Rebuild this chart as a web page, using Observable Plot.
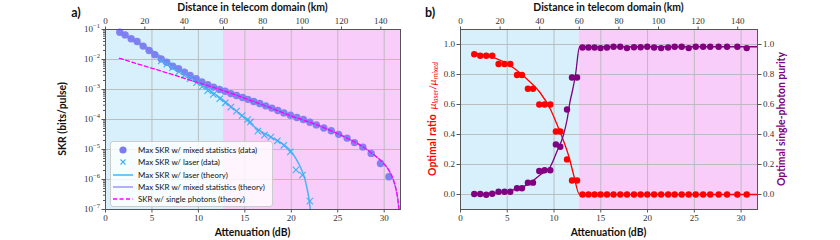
<!DOCTYPE html>
<html><head><meta charset="utf-8">
<script src="https://cdn.jsdelivr.net/npm/d3@7"></script>
<script src="https://cdn.jsdelivr.net/npm/@observablehq/plot@0.6"></script>
<style>
html,body{margin:0;padding:0;background:#fff;}
#wrap{position:relative;width:840px;height:240px;overflow:hidden;}
.panel{position:absolute;top:0;}
.legend{position:absolute;left:110px;top:141px;width:161px;height:64px;background:rgba(255,255,255,0.8);border:1px solid #ccc;border-radius:3px;font-family:Lato,sans-serif;font-size:7.9px;color:#111;}
.legend .row{position:absolute;left:0;height:12px;display:flex;align-items:center;white-space:nowrap;}
.legend svg{width:22px;height:10px;margin-left:1px;margin-right:4px;}
</style></head>
<body><div id="wrap"></div>
<script>
// ---------- data ----------
const dBperKm = 0.2117;                 // top axis conversion (attenuation per km)
const kmTicks = [0, 20, 40, 60, 80, 100, 120, 140];
const kmMax = 150;
const regionBoundaryKm = 60;

// Panel a: secret key rate
const mixedAtt = [1.54,2.11,2.76,3.40,4.05,4.69,5.31,5.99,6.60,7.24,7.86,8.50,9.11,9.76,10.37,11.01,11.63,12.27,12.87,13.49,14.10,14.75,15.32,15.95,16.6,17.25,17.9,18.55,19.2,19.9,20.6,21.3,22.0,22.7,23.5,24.3,25.1,26.0,26.8,27.7,28.6,29.6,30.5];
const mixedSKR = [8.1e-2,6.6e-2,4.9e-2,4.0e-2,2.8e-2,2.0e-2,1.45e-2,1.05e-2,8.1e-3,6.0e-3,4.9e-3,3.8e-3,2.95e-3,2.3e-3,1.8e-3,1.45e-3,1.2e-3,1.0e-3,8.7e-4,7.3e-4,6.3e-4,5.4e-4,4.7e-4,4.0e-4,3.4e-4,2.85e-4,2.4e-4,2.0e-4,1.66e-4,1.38e-4,1.17e-4,1.0e-4,8.1e-5,6.6e-5,5.2e-5,4.2e-5,3.2e-5,2.4e-5,1.7e-5,1.2e-5,7.4e-6,3.4e-6,1.23e-6];

const laserAtt = [6.0,6.6,7.2,7.9,8.5,9.1,9.8,10.4,11.0,11.6,12.3,12.9,13.5,14.1,14.7,15.3,15.6,16.4,17.1,17.8,18.5,19.2,19.9,20.5,21.2,22.0];
const laserSKR = [9.0e-3,7.0e-3,5.3e-3,3.9e-3,3.0e-3,2.3e-3,1.7e-3,1.25e-3,9.2e-4,6.8e-4,4.9e-4,3.6e-4,2.6e-4,1.9e-4,1.35e-4,1.0e-4,8.3e-5,4.1e-5,3.0e-5,2.6e-5,1.95e-5,1.38e-5,8.3e-6,2.1e-6,1.4e-6,1.9e-7];

const laserThAtt = [1.5,3,5,7,9,11,12.6,14,15,16,17,18,19,19.8,20.5,21.0,21.4,21.7,21.9,22.05];
const laserThSKR = [8.1e-2,4.6e-2,2.0e-2,7.2e-3,2.8e-3,1.05e-3,4.6e-4,2.0e-4,1.1e-4,5.8e-5,3.6e-5,2.4e-5,1.6e-5,1.0e-5,5.0e-6,2.5e-6,1.2e-6,5.0e-7,2.3e-7,1.0e-7];

const mixedThAtt = [1.5,3,5,7,9,11,12.6,14,16,18,20,22,24,26,27.5,28.8,29.8,30.6,31.1,31.4,31.6];
const mixedThSKR = [8.2e-2,4.3e-2,1.7e-2,6.6e-3,3.1e-3,1.45e-3,9.4e-4,6.6e-4,3.9e-4,2.3e-4,1.3e-4,8.1e-5,4.6e-5,2.4e-5,1.35e-5,7.0e-6,3.8e-6,1.8e-6,7.5e-7,3.0e-7,1.0e-7];

const singleThAtt = [1.5,3,5,7,9,11,12.6,14,16,18,20,22,24,26,27.5,28.8,29.8,30.6,31.1,31.4,31.6];
const singleThSKR = [1.1e-2,7.9e-3,5.1e-3,3.3e-3,2.1e-3,1.35e-3,9.4e-4,6.6e-4,3.9e-4,2.3e-4,1.3e-4,8.1e-5,4.6e-5,2.4e-5,1.35e-5,7.0e-6,3.8e-6,1.8e-6,7.5e-7,3.0e-7,1.0e-7];

const skrTicks = [1e-1,1e-2,1e-3,1e-4,1e-5,1e-6,1e-7];
const skrTickExponents = ["−1","−2","−3","−4","−5","−6","−7"];

// Panel b: optimal ratio and purity
const optAtt = [1.47,2.11,2.75,3.39,4.07,4.71,5.32,6.04,6.57,7.21,7.75,8.42,8.99,9.6,10.2,10.67,11.39,11.92,12.46,13.04,13.68,14.33,14.97,15.66,16.36,17.08,17.8,18.55,19.26,19.97,20.7,21.45,22.2,22.9,23.65,24.4,25.15,25.94,26.7,27.6,28.5,29.6,30.6];
const ratio  = [0.935,0.925,0.925,0.925,0.87,0.87,0.87,0.797,0.797,0.705,0.705,0.60,0.60,0.60,0.42,0.42,0.234,0.093,0.093,0,0,0,0,0,0,0,0,0,0,0,0,0,0,0,0,0,0,0,0,0,0,0,0];
const purity = [0.003,0.003,-0.002,0.005,0.018,0.018,0.018,0.042,0.042,0.079,0.079,0.157,0.162,0.162,0.334,0.318,0.567,0.78,0.78,0.98,0.98,0.98,0.976,0.98,0.985,0.985,0.976,0.982,0.982,0.985,0.98,0.976,0.98,0.985,0.985,0.976,0.985,0.985,0.985,0.985,0.985,0.985,0.976];

const ratioThAtt = [1.47,3.5,5.3,7.1,8.5,9.6,10.3,11.0,11.6,12.1,12.73,20,31.75];
const ratioTh    = [0.943,0.914,0.86,0.77,0.68,0.57,0.47,0.36,0.25,0.13,0.0,0.0,0.0];
const purityThAtt = [1.47,3.5,5.3,7.1,8.5,9.6,10.3,11.0,11.4,11.7,12.0,12.3,12.73,20,31.75];
const purityTh    = [0.003,0.009,0.025,0.064,0.13,0.185,0.285,0.395,0.50,0.616,0.70,0.80,0.985,0.985,0.985];
const ratioTicks = [0.0,0.2,0.4,0.6,0.8,1.0];

// ---------- colours ----------
const C = {
  blueBg:"#d8effc", pinkBg:"#f9cdf9", grid:"#b8b8b8", spine:"#555",
  mixed:"#7c7cf0", laser:"#3fb1f2", laserTh:"#45b6f5", mixedTh:"#9d94f2", single:"#ff00ff",
  red:"#ff0000", purple:"#800080"
};

const toRows = (xs, ys) => xs.map((x,i)=>({x, y: ys[i]}));
const xDomain = [0, kmMax*dBperKm];
const bgRegions = [
  {x1: 0, x2: regionBoundaryKm*dBperKm, fill: C.blueBg},
  {x1: regionBoundaryKm*dBperKm, x2: kmMax*dBperKm, fill: C.pinkBg}
];
const tickFont = "Liberation Serif, serif";
const labelFont = "Lato, sans-serif";

function commonX(){
  return [
    Plot.gridX([0,5,10,15,20,25,30], {stroke: C.grid, strokeOpacity: 1, strokeWidth: 0.9}),
    Plot.axisX([0,5,10,15,20,25,30], {anchor:"bottom", tickSize:3.5, tickPadding:2, stroke:C.spine, fill:"#333", fontSize:9, fontFamily: tickFont, label:null}),
    Plot.axisX(kmTicks.map(k=>k*dBperKm), {anchor:"top", tickSize:3.5, tickPadding:2, stroke:C.spine, fill:"#333", fontSize:9, fontFamily: tickFont, label:null, tickFormat: d => Math.round(d/dBperKm)})
  ];
}

// ---------- panel a ----------
const pa = Plot.plot({
  width: 420, height: 240,
  marginLeft: 105, marginRight: 20, marginTop: 29, marginBottom: 31,
  x: {domain: xDomain},
  y: {type:"log", domain:[1e-7, 1e-1]},
  style: {background:"transparent", overflow:"visible"},
  marks: [
    Plot.rectX(bgRegions, {x1:"x1", x2:"x2", y1:1e-7, y2:1e-1, fill:"fill"}),
    Plot.gridY(skrTicks, {stroke: C.grid, strokeOpacity: 1, strokeWidth: 0.9}),
    ...commonX(),
    Plot.axisY(d3.scaleLog().domain([1e-7,1e-1]).ticks().filter(t=>!skrTicks.includes(t)), {tickSize:2, stroke:C.spine, tickFormat: ()=>"", label:null}),
    Plot.axisY(skrTicks, {tickSize:3.5, tickPadding:2, stroke:C.spine, fill:"#333", fontSize:9, fontFamily: tickFont, label:null, tickFormat:(d)=>"10^" + skrTickExponents[skrTicks.indexOf(d)]}),
    Plot.line(toRows(laserThAtt, laserThSKR), {x:"x", y:"y", stroke:C.laserTh, strokeWidth:1.5, curve:"monotone-x"}),
    Plot.line(toRows(mixedThAtt, mixedThSKR), {x:"x", y:"y", stroke:C.mixedTh, strokeWidth:1.5, curve:"monotone-x"}),
    Plot.dot(toRows(mixedAtt, mixedSKR), {x:"x", y:"y", r:3.7, fill:C.mixed, fillOpacity:0.95}),
    Plot.dot(toRows(laserAtt, laserSKR), {x:"x", y:"y", r:3, symbol:"times", stroke:C.laser, strokeWidth:1.1}),
    Plot.line(toRows(singleThAtt, singleThSKR), {x:"x", y:"y", stroke:C.single, strokeWidth:1.3, strokeDasharray:"4,2.5", curve:"monotone-x"}),
    Plot.frame({stroke:C.spine, strokeWidth:1})
  ]
});

// turn "10^−n" tick labels into real superscripts
d3.select(pa).selectAll("text").each(function(){
  const s = this.textContent;
  if (s.startsWith("10^")) {
    const exp = s.slice(3);
    const t = d3.select(this);
    const tsp = t.selectAll("tspan");
    const target = tsp.empty() ? t : d3.select(tsp.node());
    target.text("10");
    target.append("tspan").attr("dy", "-4").attr("font-size", 6.5).text(exp);
  }
});

// ---------- panel b ----------
const pb = Plot.plot({
  width: 420, height: 240,
  marginLeft: 40, marginRight: 83, marginTop: 29, marginBottom: 31,
  x: {domain: xDomain},
  y: {domain:[-0.1, 1.1]},
  style: {background:"transparent", overflow:"visible"},
  marks: [
    Plot.rectX(bgRegions, {x1:"x1", x2:"x2", y1:-0.1, y2:1.1, fill:"fill"}),
    Plot.gridY(ratioTicks, {stroke: C.grid, strokeOpacity: 1, strokeWidth: 0.9}),
    ...commonX(),
    Plot.axisY(ratioTicks, {anchor:"left", tickSize:3.5, tickPadding:2, stroke:C.spine, fill:"#333", fontSize:9, fontFamily: tickFont, label:null, tickFormat: d3.format(".1f")}),
    Plot.axisY(ratioTicks, {anchor:"right", tickSize:3.5, tickPadding:2, stroke:C.spine, fill:"#333", fontSize:9, fontFamily: tickFont, label:null, tickFormat: d3.format(".1f")}),
    Plot.line(toRows(ratioThAtt, ratioTh), {x:"x", y:"y", stroke:C.red, strokeWidth:1.3, curve:"monotone-x"}),
    Plot.dot(toRows(optAtt, ratio), {x:"x", y:"y", r:3.2, fill:C.red}),
    Plot.line(toRows(purityThAtt, purityTh), {x:"x", y:"y", stroke:C.purple, strokeWidth:1.3, curve:"monotone-x"}),
    Plot.dot(toRows(optAtt, purity), {x:"x", y:"y", r:3.2, fill:C.purple}),
    Plot.frame({stroke:C.spine, strokeWidth:1})
  ]
});

const wrap = document.getElementById("wrap");
pa.classList.add("panel"); pa.style.left = "0px";
pb.classList.add("panel"); pb.style.left = "420px";
wrap.appendChild(pa); wrap.appendChild(pb);

// ---------- text labels ----------
function addText(svg, x, y, txt, opts={}){
  const t = d3.select(svg).append("text")
    .attr("x", x).attr("y", y)
    .attr("text-anchor", opts.anchor || "middle")
    .attr("font-family", opts.family || labelFont)
    .attr("font-weight", opts.weight || "bold")
    .attr("font-size", opts.size || 10.4)
    .attr("fill", opts.fill || "#111");
  if (opts.rotate) t.attr("transform", `rotate(-90 ${x} ${y})`);
  if (typeof txt === "string") t.text(txt);
  else txt.forEach(p => { const s = t.append("tspan").text(p.t); if (p.style) s.attr("font-style", p.style); if (p.dy) s.attr("dy", p.dy); if (p.size) s.attr("font-size", p.size); if (p.weight) s.attr("font-weight", p.weight); });
  return t;
}
const xTitle = "Attenuation (dB)", topTitle = "Distance in telecom domain (km)";
addText(pa, 252.5, 11, topTitle);
addText(pa, 252.5, 236, xTitle);
addText(pa, 76, 17, "a)", {size:12.5});
addText(pa, 66, 119, "SKR (bits/pulse)", {rotate:true});
addText(pb, 188.5, 11, topTitle);
addText(pb, 188.5, 236, xTitle);
addText(pb, 10, 17, "b)", {size:12.5});
addText(pb, 16, 119, [
  {t:"Optimal ratio  "},
  {t:"μ", style:"italic", weight:"normal"},
  {t:"laser", style:"italic", weight:"normal", dy:"2", size:7},
  {t:"/", weight:"normal", dy:"-2"},
  {t:"μ", style:"italic", weight:"normal"},
  {t:"mixed", style:"italic", weight:"normal", dy:"2", size:7}
], {rotate:true, fill:C.red});
addText(pb, 365, 119, "Optimal single-photon purity", {rotate:true, fill:C.purple});

// ---------- legend ----------
const legendItems = [
  {label:"Max SKR w/ mixed statistics (data)", kind:"dot", color:C.mixed},
  {label:"Max SKR w/ laser (data)", kind:"x", color:C.laser},
  {label:"Max SKR w/ laser (theory)", kind:"line", color:C.laserTh},
  {label:"Max SKR w/ mixed statistics (theory)", kind:"line", color:C.mixedTh},
  {label:"SKR w/ single photons (theory)", kind:"dash", color:C.single}
];
const lg = document.createElement("div"); lg.className = "legend";
legendItems.forEach((it, i) => {
  const row = document.createElement("div"); row.className = "row"; row.style.top = (2 + i*12.3) + "px";
  let sw = "";
  if (it.kind==="dot") sw = `<circle cx="11" cy="5" r="3.6" fill="${it.color}"/>`;
  if (it.kind==="x") sw = `<path d="M8.5,2.5L13.5,7.5M13.5,2.5L8.5,7.5" stroke="${it.color}" stroke-width="1.1"/>`;
  if (it.kind==="line") sw = `<line x1="1" x2="21" y1="5" y2="5" stroke="${it.color}" stroke-width="1.5"/>`;
  if (it.kind==="dash") sw = `<line x1="1" x2="21" y1="5" y2="5" stroke="${it.color}" stroke-width="1.3" stroke-dasharray="4,2.5"/>`;
  row.innerHTML = `<svg viewBox="0 0 22 10">${sw}</svg><span>${it.label}</span>`;
  lg.appendChild(row);
});
wrap.appendChild(lg);
</script></body></html>
